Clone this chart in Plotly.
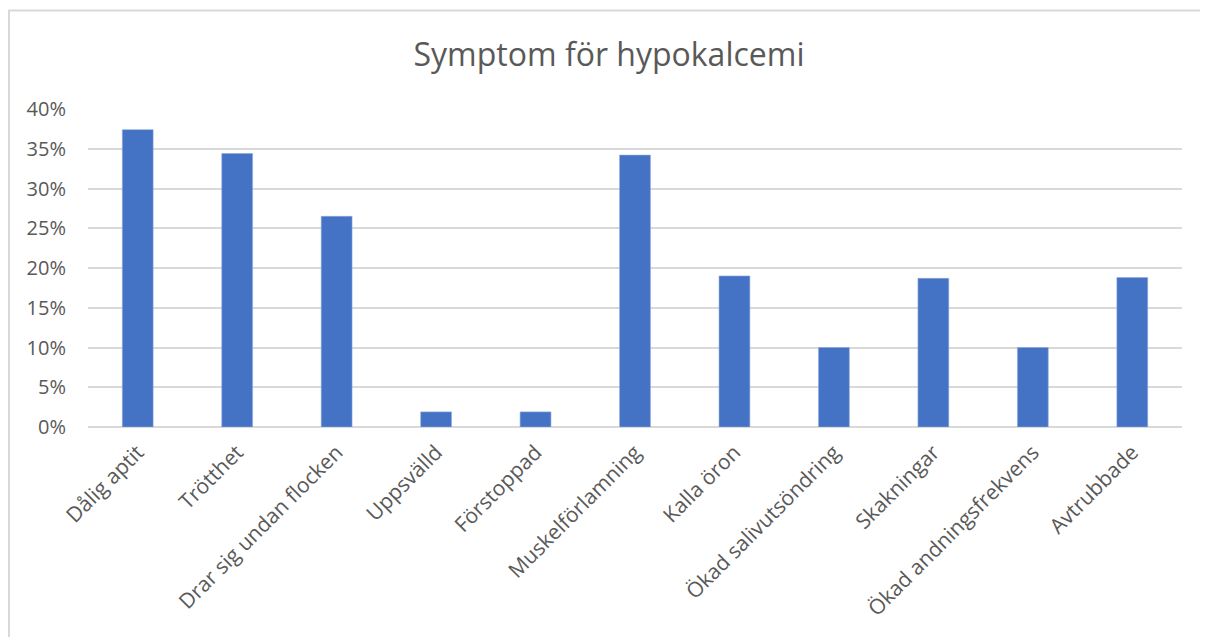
import plotly.graph_objects as go

categories = ["Dålig aptit", "Trötthet", "Drar sig undan flocken", "Uppsvälld",
              "Förstoppad", "Muskelförlamning", "Kalla öron", "Ökad salivutsöndring",
              "Skakningar", "Ökad andningsfrekvens", "Avtrubbade"]
values = [0.374, 0.344, 0.265, 0.019, 0.019, 0.342, 0.190, 0.100, 0.187, 0.100, 0.188]
y_ticks = [0, 0.05, 0.10, 0.15, 0.20, 0.25, 0.30, 0.35, 0.40]
y_ticklabels = ["0%", "5%", "10%", "15%", "20%", "25%", "30%", "35%", "40%"]
title = "Symptom för hypokalcemi"

OFF = 8  # default page margin of the html body
W, H = 1208, 637
L, T = 88 - OFF, 109 - OFF
pw, ph = 1094, 318
R = W - L - pw
B = H - T - ph

def px_x(p):  # page pixel -> paper x
    return (p - OFF - L) / pw

def px_y(p):  # page pixel -> paper y
    return (T + ph - (p - OFF)) / ph

fig = go.Figure(go.Bar(
    x=categories, y=values,
    marker=dict(color="#4472C4", line=dict(color="#8faadc", width=0.6)),
))

fig.update_layout(
    width=W, height=H,
    margin=dict(l=L, r=R, t=T, b=B, autoexpand=False),
    paper_bgcolor="white", plot_bgcolor="white",
    bargap=0.69,
    showlegend=False,
    title=dict(text=title, x=px_x(609), xref="paper", xanchor="center",
               y=1 - (55 - OFF) / H, yanchor="middle",
               font=dict(family="Open Sans", size=32, color="#595959")),
    font=dict(family="Open Sans", color="#595959"),
    shapes=[
        dict(type="line", xref="paper", yref="paper",
             x0=px_x(8), x1=px_x(W + 20), y0=px_y(10.5), y1=px_y(10.5),
             line=dict(color="#d9d9d9", width=2)),
        dict(type="line", xref="paper", yref="paper",
             x0=px_x(9), x1=px_x(9), y0=px_y(10.5), y1=px_y(H + 20),
             line=dict(color="#d9d9d9", width=2)),
    ],
)

fig.update_yaxes(
    range=[0, 0.4], tickvals=y_ticks, ticktext=y_ticklabels,
    showgrid=True, gridcolor="#d9d9d9", gridwidth=1.5,
    zeroline=True, zerolinecolor="#d9d9d9", zerolinewidth=1.5,
    showline=False, ticks="", ticklabelstandoff=21,
    tickfont=dict(family="Open Sans", size=20, color="#595959"),
)
fig.update_xaxes(
    tickangle=-45, showgrid=False, showline=False, ticks="",
    ticklabelstandoff=8,
    tickfont=dict(family="Open Sans", size=21, color="#595959"),
)

fig.write_html("out.html")
